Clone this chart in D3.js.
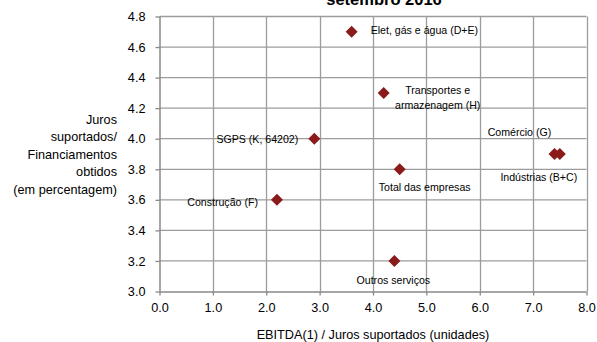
<!DOCTYPE html>
<html><head><meta charset="utf-8">
<script src="https://cdn.jsdelivr.net/npm/d3@7"></script>
<style>
body{margin:0;background:#fff;}
text{font-family:"Liberation Sans",Arial,sans-serif;fill:#000;}
</style></head>
<body><svg id="c" width="597" height="342"></svg>
<script>
const labels = ["Elet, gás e água (D+E)","Transportes e|armazenagem (H)","SGPS (K, 64202)","Total das empresas","Comércio (G)","Indústrias (B+C)","Construção (F)","Outros serviços"];
const xVals = [3.6, 4.2, 2.9, 4.5, 7.4, 7.5, 2.2, 4.4];
const yVals = [4.7, 4.3, 4.0, 3.8, 3.9, 3.9, 3.6, 3.2];
// label offsets (px) relative to marker, anchor
const labelDx = [19, 54, -16, 25, -35, -21, -19, -1];
const labelDy = [-2, -3, 0, 17.5, -22, 23, 1.7, 19];
const labelAnchor = ["start","middle","end","middle","middle","middle","end","middle"];
const xTicks = [0,1,2,3,4,5,6,7,8];
const yTicks = [3.0,3.2,3.4,3.6,3.8,4.0,4.2,4.4,4.6,4.8];
const yTitle = ["Juros","suportados/","Financiamentos","obtidos","(em percentagem)"];

const svg = d3.select("#c");
const L=159.5, R=586.5, T=16.5, B=291.5;
const x = d3.scaleLinear().domain([0,8]).range([L,R]);
const y = d3.scaleLinear().domain([3.0,4.8]).range([B,T]);
const grid="#9c9c9c";

svg.append("g").selectAll("line").data(xTicks.slice(1)).join("line")
 .attr("x1",d=>Math.round(x(d))+0.5).attr("x2",d=>Math.round(x(d))+0.5).attr("y1",T).attr("y2",B)
 .attr("stroke",grid).attr("stroke-width",1.3);
svg.append("g").selectAll("line").data(yTicks.slice(1)).join("line")
 .attr("y1",d=>y(d)).attr("y2",d=>y(d)).attr("x1",L).attr("x2",R)
 .attr("stroke",grid).attr("stroke-width",1.3);

const xa = svg.append("g").attr("transform",`translate(0,${B})`)
 .call(d3.axisBottom(x).tickValues(xTicks).tickFormat(d3.format(".1f")).tickSize(4).tickPadding(7));
const ya = svg.append("g").attr("transform",`translate(${L},0)`)
 .call(d3.axisLeft(y).tickValues(yTicks).tickFormat(d3.format(".1f")).tickSize(4).tickPadding(10));
[xa,ya].forEach(a=>{
 a.selectAll("path").attr("stroke","#888").attr("stroke-width",1.5);
 a.selectAll("line").attr("stroke","#888").attr("stroke-width",1.3);
 a.selectAll("text").attr("font-size",12.7).attr("font-family","Liberation Sans, Arial, sans-serif");
});
xa.select(".domain").attr("d",`M${L},0.5H${R}`);
ya.select(".domain").attr("d",`M0.5,${B}V${T}`);

svg.append("g").selectAll("path").data(xVals).join("path")
 .attr("transform",(d,i)=>`translate(${x(d)},${y(yVals[i])})`)
 .attr("d","M0,-6L6,0L0,6L-6,0Z").attr("fill","#8b1a1a");

const lg = svg.append("g");
labels.forEach((t,i)=>{
 const parts=t.split("|");
 const tx = lg.append("text").attr("font-size",10.6).attr("text-anchor",labelAnchor[i])
  .attr("x",x(xVals[i])+labelDx[i]).attr("y",y(yVals[i])+labelDy[i]+4);
 parts.forEach((p,j)=>tx.append("tspan").attr("x",x(xVals[i])+labelDx[i]).attr("dy",j?15:0).text(p));
});

svg.append("text").attr("x",384).attr("y",5).attr("text-anchor","middle")
 .attr("font-weight","bold").attr("font-size",16.5).text("setembro 2016");
svg.append("text").attr("x",(L+R)/2).attr("y",339).attr("text-anchor","middle")
 .attr("font-size",12.7).text("EBITDA(1) / Juros suportados (unidades)");
const yt = svg.append("text").attr("text-anchor","end").attr("font-size",12.7);
yTitle.forEach((t,j)=>yt.append("tspan").attr("x",117).attr("y",123.5+j*17.6).text(t));
</script></body></html>
